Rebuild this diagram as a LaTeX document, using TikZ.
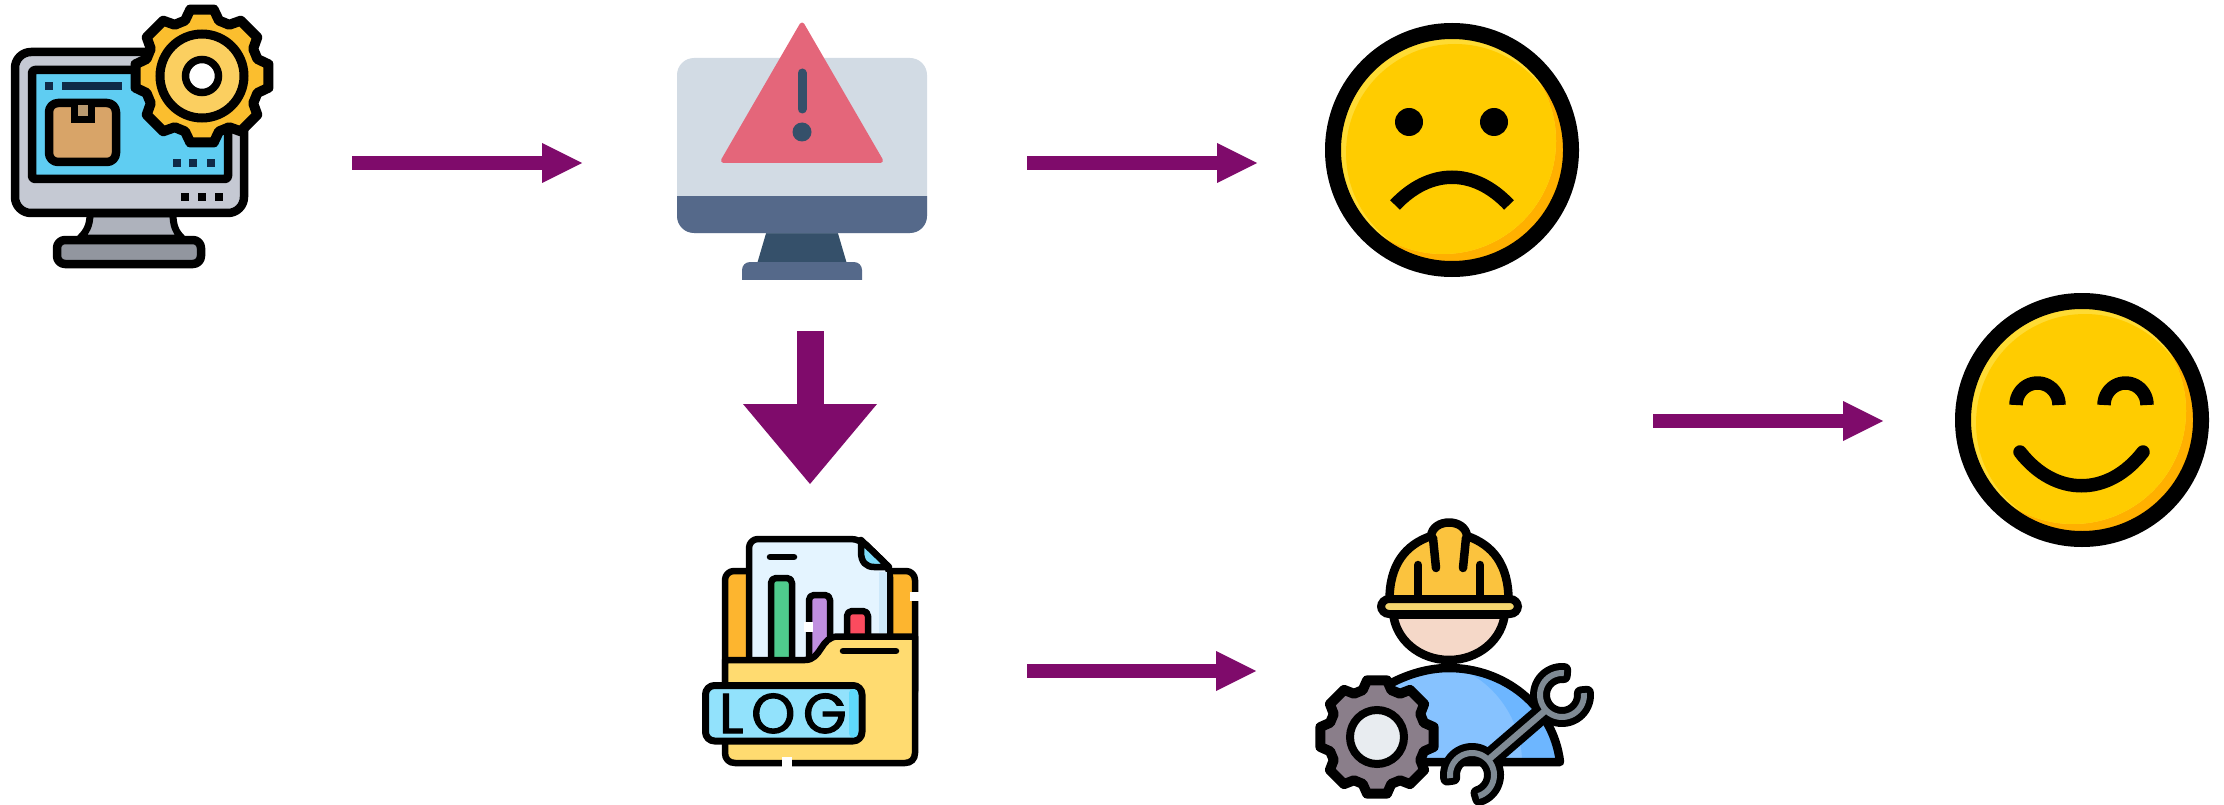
\documentclass[tikz,border=0pt]{standalone}
\usepackage{fontspec}
\usetikzlibrary{arrows.meta,calc}
\newfontfamily\logfont[FakeBold=2,LetterSpace=14]{Poppins}
\definecolor{flowpurple}{HTML}{7F0B6B}
\definecolor{facemain}{HTML}{FFCC00}
\definecolor{facelight}{HTML}{FFDB33}
\definecolor{facedark}{HTML}{FFB000}
\definecolor{navy}{HTML}{35506A}
\definecolor{slateb}{HTML}{55698A}
\definecolor{palegrey}{HTML}{D2DBE4}
\definecolor{alertred}{HTML}{E4667A}
\definecolor{standgrey}{HTML}{AEB2BC}
\definecolor{basegrey}{HTML}{92969F}
\definecolor{bezelgrey}{HTML}{C5C9D3}
\definecolor{screenblue}{HTML}{5FCDF2}
\definecolor{boxtan}{HTML}{D8A468}
\definecolor{tapetan}{HTML}{B99A70}
\definecolor{gearyellow}{HTML}{FBBE2E}
\definecolor{gearlight}{HTML}{FBCF60}
\definecolor{dotnavy}{HTML}{0F2A48}
\definecolor{folderback}{HTML}{FDB52F}
\definecolor{folderfront}{HTML}{FFDB70}
\definecolor{paperblue}{HTML}{E4F4FF}
\definecolor{papershade}{HTML}{CDE8FA}
\definecolor{foldblue}{HTML}{7DDCFA}
\definecolor{bargreen}{HTML}{4FCB8D}
\definecolor{barpurple}{HTML}{C08FE0}
\definecolor{barred}{HTML}{FB4B5E}
\definecolor{tagblue}{HTML}{92E2FC}
\definecolor{tagshade}{HTML}{5FD9FB}
\definecolor{bodyblue}{HTML}{86C2FF}
\definecolor{bodyshade}{HTML}{6DB6FF}
\definecolor{skintone}{HTML}{F5D8C8}
\definecolor{helmetyellow}{HTML}{FBC33E}
\definecolor{brimyellow}{HTML}{F5D66E}
\definecolor{cogmauve}{HTML}{8A7E8A}
\definecolor{cogwhite}{HTML}{E8ECF0}
\definecolor{wrenchgrey}{HTML}{7F8A94}
\newcommand{\gearshape}[5]{% cx,cy,ro,ri,fill
  \begin{scope}[shift={(#1,#2)}]
    \filldraw[fill=#5,draw=black,line width=10pt,line join=round]
      (-17:#4) foreach \ga in {0,45,...,315} {
        -- (\ga-17:#4) -- (\ga-10:#3) -- (\ga+10:#3) -- (\ga+17:#4)
      } -- cycle;
  \end{scope}}
\newcommand{\smileyface}[2]{%
  \begin{scope}
    \clip (#1,#2) circle (113);
    \fill[facedark] (#1,#2) circle (113);
    \clip ({#1-9},{#2-9}) circle (113);
    \fill[facelight] (#1,#2) circle (114);
    \fill[facemain] ({#1+3},{#2+3}) circle (109);
  \end{scope}
  \draw[black,line width=16pt] (#1,#2) circle (119);}
\newcommand{\bodypath}{(1345,762) -- (1560,762) .. controls (1553,705) and (1503,668) .. (1449,668) .. controls (1410,668) and (1370,690) .. (1345,720) -- cycle}
% jaw of the wrench: centre x, y, from angle, to angle
\newcommand{\jawpath}[4]{plot[domain=#3:#4,samples=40] ({#1+25*cos(\x)},{#2+25*sin(\x)}) -- plot[domain=#4:#3,samples=40] ({#1+19*cos(\x)},{#2+19*sin(\x)}) -- cycle}
\tikzset{
  iconbox/.style={minimum width=#1,inner sep=0pt,outer sep=0pt},
  flow/.style={draw=flowpurple,line width=13.5pt,-{Triangle[length=40pt,width=40pt,line width=0pt,fill=flowpurple]}},
  bigflow/.style={draw=flowpurple,line width=27pt,-{Triangle[length=80pt,width=134pt,line width=0pt,fill=flowpurple]}},
  ink/.style={draw=black,line width=8.5pt,line join=round},
  logink/.style={draw=black,line width=6.5pt,line join=round},
  inkthin/.style={draw=black,line width=6.5pt,line cap=round,line join=round}
}
\begin{document}
\begin{tikzpicture}[x=1pt,y=-1pt]
\useasboundingbox (0,0) rectangle (2224,805);

% ---- anchors of the icons
\node[iconbox=266pt,minimum height=200pt] (monitor) at (142,163) {};
\node[iconbox=250pt,minimum height=232pt] (warn) at (802,163) {};
\node[iconbox=254pt,minimum height=254pt] (sad) at (1452,163) {};
\node[iconbox=216pt,minimum height=268pt] (logfolder) at (810,671) {};
\node[iconbox=232pt,minimum height=268pt] (engineer) at (1470,671) {};
\node[iconbox=254pt,minimum height=254pt] (happy) at (2082,421) {};
\coordinate (fixed) at (1653,421);

% ---- computer with gear
\filldraw[fill=standgrey,draw=black,line width=7pt,line join=round]
  (90,214) .. controls (90,226) and (86,232) .. (80,238) -- (182,238) .. controls (176,232) and (173,226) .. (173,214) -- cycle;
\filldraw[ink,fill=basegrey,rounded corners=8pt] (57,240) rectangle (201,264);
\filldraw[ink,fill=bezelgrey,rounded corners=16pt] (15,52) rectangle (244,213);
\filldraw[ink,fill=screenblue,rounded corners=3pt] (32,70) rectangle (228,179);
\fill[dotnavy] (45,82) rectangle (53,90);
\fill[dotnavy] (62,82) rectangle (122,90);
\filldraw[ink,fill=boxtan,rounded corners=9pt] (49,103) rectangle (116,162);
\filldraw[draw=black,line width=7pt,fill=tapetan] (74,105) -- (74,120) -- (91,120) -- (91,105);
\foreach \dx in {177,193,211}{\fill[dotnavy] (\dx-4,159) rectangle (\dx+4,167);}
\foreach \dx in {185,202,219}{\fill[black] (\dx-4,193) rectangle (\dx+4,201);}
\gearshape{202}{76}{67.5}{58}{gearyellow}
\filldraw[draw=black,line width=9pt,fill=gearlight] (202,76) circle (42);
\filldraw[draw=black,line width=7.5pt,fill=white] (202,76) circle (16.5);

% ---- alert monitor
\fill[navy] (767,230) -- (837,230) -- (847,264) -- (757,264) -- cycle;
\begin{scope}
  \clip (735,255) rectangle (870,279);
  \fill[slateb,rounded corners=8pt] (742,290) -- (742,262) -- (862,262) -- (862,290) -- cycle;
\end{scope}
\fill[palegrey,rounded corners=17pt] (677,233) -- (677,58) -- (927,58) -- (927,233) -- cycle;
\begin{scope}
  \clip (677,197) rectangle (927,233);
  \fill[slateb,rounded corners=17pt] (677,170) -- (677,233) -- (927,233) -- (927,170) -- cycle;
\end{scope}
\fill[alertred,draw=alertred,line width=5pt,line join=round]
  (802,25) -- (880.5,160.5) -- (723.5,160.5) -- cycle;
\draw[navy,line width=9pt,line cap=round] (802,73) -- (802,109);
\fill[navy] (802,132) circle (9.5);

% ---- sad face
\smileyface{1452}{150}
\fill[black] (1409,122) circle (14);
\fill[black] (1494,122) circle (14);
\draw[black,line width=13.5pt] (1395,205) .. controls (1430,168) and (1474,168) .. (1509,205);

% ---- log folder
\filldraw[logink,fill=folderback,rounded corners=9pt] (725,700) -- (725,571) -- (915,571) -- (915,700) -- cycle;
\filldraw[logink,fill=paperblue,rounded corners=9pt] (749,680) -- (749,539) -- (860,539) -- (890,568) [sharp corners] -- (890,680) -- cycle;
\fill[papershade] (879,572) rectangle (887,633);
\filldraw[inkthin,fill=foldblue] (861,540) -- (861,552) .. controls (861,562) and (866,567) .. (874,567) -- (889,567) -- cycle;
\draw[inkthin] (770,557) -- (794,557);
\filldraw[logink,fill=bargreen,rounded corners=5pt] (771,680) -- (771,578) -- (792,578) -- (792,680) -- cycle;
\filldraw[logink,fill=barpurple,rounded corners=5pt] (809,680) -- (809,595) -- (830,595) -- (830,680) -- cycle;
\filldraw[logink,fill=barred,rounded corners=5pt] (847,660) -- (847,611) -- (868,611) -- (868,660) -- cycle;
\filldraw[logink,fill=folderfront] (725,660) -- (805,660) .. controls (822,660) and (820,636.5) .. (838,636.5) -- (915,636.5) -- (915,753) .. controls (915,759) and (911,763) .. (905,763) -- (735,763) .. controls (729,763) and (725,759) .. (725,753) -- cycle;
\draw[inkthin] (843,651) -- (896,651);
\fill[white] (910,592) rectangle (919,601);
\fill[white] (782,757) rectangle (792,767);
\fill[white] (804,622) rectangle (813,632);
\filldraw[logink,line width=7pt,fill=tagblue,rounded corners=9pt] (705.5,685.5) rectangle (862,741);
\fill[tagshade,rounded corners=4pt] (849,689) rectangle (858,737.5);
\node[inner sep=0pt,anchor=base west,font=\logfont\fontsize{56}{56}\selectfont] (logword) at (719,733) {LOG};

% ---- engineer
\fill[bodyblue] \bodypath;
\fill[bodyshade] (1458,668) .. controls (1505,668) and (1553,705) .. (1560,762) -- (1522,762) .. controls (1522,720) and (1495,682) .. (1458,668) -- cycle;
\draw[ink] \bodypath;
\filldraw[ink,fill=skintone] (1393,612) .. controls (1395,640) and (1420,660) .. (1449,660) .. controls (1478,660) and (1503,640) .. (1505,612) -- cycle;
\filldraw[ink,fill=helmetyellow] (1389.5,600) .. controls (1389.5,565) and (1405,545) .. (1431,536) .. controls (1433,518) and (1465,518) .. (1467,536) .. controls (1493,545) and (1508.5,565) .. (1508.5,600) -- cycle;
\draw[inkthin,line width=8.5pt] (1418,565) -- (1418,598);
\draw[inkthin,line width=8.5pt] (1480,565) -- (1480,598);
\draw[inkthin,line width=8.5pt] (1433,538) -- (1436,568);
\draw[inkthin,line width=8.5pt] (1466,538) -- (1463,568);
\filldraw[draw=black,line width=8pt,fill=brimyellow,rounded corners=8pt] (1381,599) rectangle (1518,614);
\fill[black] (1392,611) rectangle (1506,619);
\gearshape{1377}{737}{57.5}{49}{cogmauve}
\filldraw[draw=black,line width=8pt,fill=cogwhite] (1377,737) circle (27);
\draw[black,line width=20pt] (1488,760) -- (1546,710);
\draw[black,line width=14pt,line join=round] \jawpath{1562}{695}{-5}{275};
\draw[black,line width=14pt,line join=round] \jawpath{1472}{775}{172}{433};
\fill[wrenchgrey] \jawpath{1562}{695}{-5}{275};
\fill[wrenchgrey] \jawpath{1472}{775}{172}{433};
\draw[wrenchgrey,line width=6.5pt] (1488,760) -- (1546,710);

% ---- happy face
\smileyface{2082}{420}
\draw[black,line width=13.5pt] plot[domain=180:360,samples=30] ({2037.5+21.5*cos(\x)},{405+22*sin(\x)});
\draw[black,line width=13.5pt] plot[domain=180:360,samples=30] ({2125.5+21.5*cos(\x)},{405+22*sin(\x)});
\draw[black,line width=13.5pt,line cap=round] (2020,452) .. controls (2055,497) and (2108,497) .. (2143,452);

% ---- connectors
\draw[flow,shorten <=77pt,shorten >=95pt] (monitor) -- (warn);
\draw[flow,shorten <=100pt,shorten >=68pt] (warn) -- (sad);
\draw[flow,shorten <=109pt,shorten >=98pt] (logfolder) -- (engineer);
\draw[flow,shorten >=72pt] (fixed) -- (happy);
\draw[bigflow,shorten <=52pt,shorten >=53pt] (warn.south -| logfolder.north) -- (logfolder.north);
\end{tikzpicture}
\end{document}
